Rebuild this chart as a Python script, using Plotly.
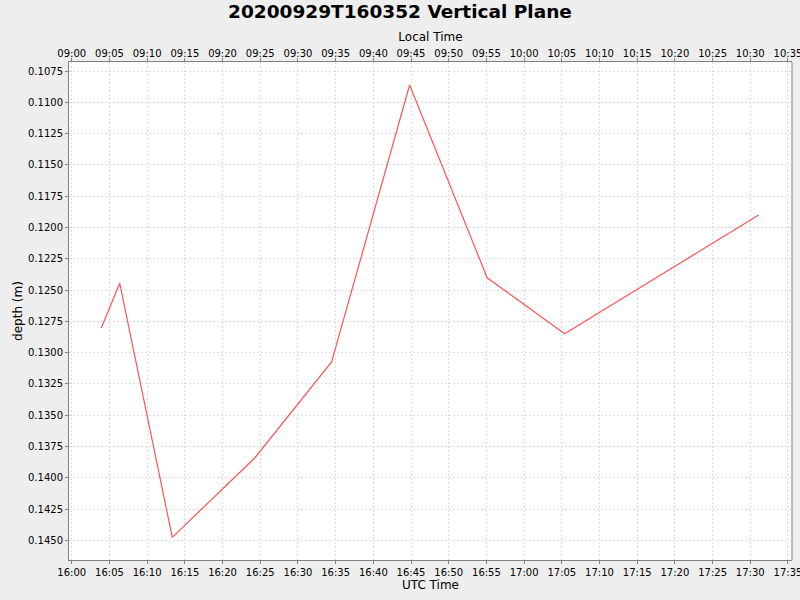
#!/usr/bin/env python3
"""
Vertical plane depth profile with UTC and local time axes
"""

from datetime import datetime, timedelta
import plotly.graph_objects as go

# Samples (UTC time, depth in metres)
utc_times = [
    "2020-09-29 16:03:54", "2020-09-29 16:06:22", "2020-09-29 16:13:20",
    "2020-09-29 16:24:16", "2020-09-29 16:34:28", "2020-09-29 16:44:49",
    "2020-09-29 16:55:06", "2020-09-29 17:05:22", "2020-09-29 17:31:07",
]
depths = [0.12806, 0.12446, 0.14476, 0.13842, 0.13075, 0.10862, 0.12402, 0.12849, 0.11901]

local_offset_hours = -7
utc_range = ["2020-09-29 15:59:38", "2020-09-29 17:35:32"]
depth_range = [0.14657, 0.10678]


def shift(ts, hours):
    dt = datetime.strptime(ts, "%Y-%m-%d %H:%M:%S") + timedelta(hours=hours)
    return dt.strftime("%Y-%m-%d %H:%M:%S")


def main():
    font = "DejaVu Sans"
    fig = go.Figure()

    fig.add_trace(go.Scatter(
        x=utc_times, y=depths, mode="lines",
        line=dict(color="#FF5555", width=1.2),
        showlegend=False,
    ))

    # invisible copy on the local-time axis so it gets drawn
    fig.add_trace(go.Scatter(
        x=[shift(t, local_offset_hours) for t in utc_times], y=depths,
        mode="lines", line=dict(width=0), opacity=0,
        xaxis="x2", hoverinfo="skip", showlegend=False,
    ))

    axis_common = dict(
        type="date", dtick=300000, tickformat="%H:%M",
        ticks="outside", ticklen=3, tickcolor="#808080",
        showline=True, linecolor="#808080", linewidth=1,
        tickfont=dict(family=font, size=10, color="#000000"),
        zeroline=False, automargin=False, ticklabeloverflow="allow",
    )

    fig.update_layout(
        width=800, height=600,
        paper_bgcolor="#EEEEEE", plot_bgcolor="#FFFFFF",
        margin=dict(l=69, r=8, t=62, b=40, autoexpand=False),
        title=dict(
            text="<b>20200929T160352 Vertical Plane</b>",
            x=0.5, xanchor="center", y=1 - 11.5 / 600, yanchor="middle",
            font=dict(family=font, size=18.5, color="#000000"),
            automargin=False,
        ),
        xaxis=dict(
            **axis_common,
            range=utc_range,
            showgrid=True, gridcolor="#DDDDDD", griddash="2px,2px", gridwidth=1,
            title=dict(text="UTC Time", standoff=3,
                       font=dict(family=font, size=12, color="#000000")),
        ),
        xaxis2=dict(
            **axis_common,
            overlaying="x", side="top", anchor="y",
            range=[shift(utc_range[0], local_offset_hours), shift(utc_range[1], local_offset_hours)],
            showgrid=False, ticklabelstandoff=-3,
            title=dict(text="Local Time", standoff=3,
                       font=dict(family=font, size=12, color="#000000")),
        ),
        yaxis=dict(
            range=depth_range, dtick=0.0025, tick0=0.1, tickformat=".4f",
            ticks="outside", ticklen=3, tickcolor="#808080",
            showline=True, linecolor="#808080", linewidth=1,
            showgrid=True, gridcolor="#DDDDDD", griddash="2px,2px", gridwidth=1,
            zeroline=False, automargin=False,
            tickfont=dict(family=font, size=10, color="#000000"),
            title=dict(text="depth (m)", standoff=2,
                       font=dict(family=font, size=12, color="#000000")),
        ),
    )

    # right border of the plot area
    fig.add_shape(type="line", xref="paper", yref="paper", x0=1, x1=1, y0=0, y1=1,
                  line=dict(color="#808080", width=1))

    # page body has a default 8px margin; drop it so the chart sits at the window corner
    fig.write_html("out.html", config={"displayModeBar": False},
                   post_script="document.body.style.margin='0';")


if __name__ == "__main__":
    main()
